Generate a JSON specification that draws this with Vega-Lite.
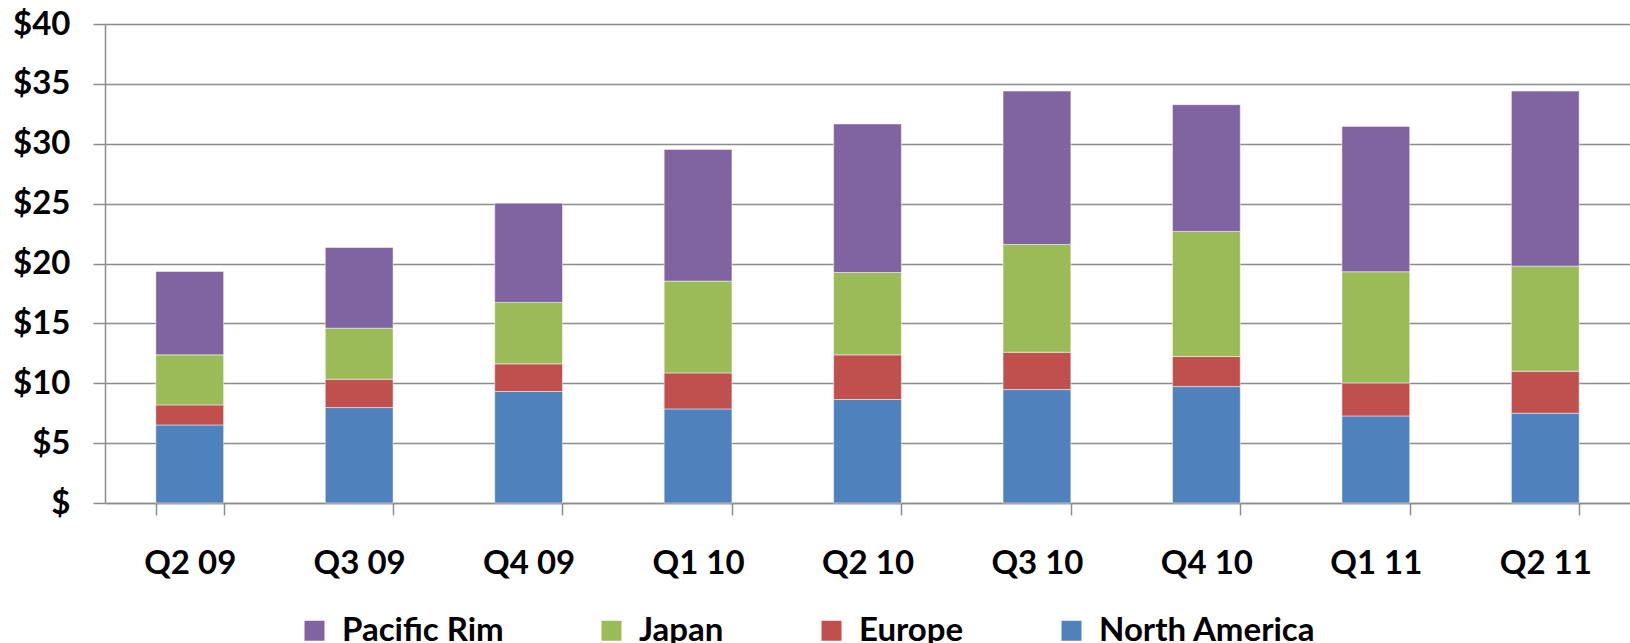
{
  "$schema": "https://vega.github.io/schema/vega-lite/v6.json",
  "width": 1525,
  "height": 479,
  "autosize": {"type": "none"},
  "padding": {"left": 105, "top": 24, "right": 0, "bottom": 140},
  "background": "#ffffff",
  "config": {
    "view": {"stroke": null},
    "font": "Lato",
    "axis": {"labelFont": "Lato", "labelFontWeight": "bold", "labelColor": "#000000"}
  },
  "data": {
    "values": [
      {"quarter": "Q2 09", "region": "North America", "value": 6.52},
      {"quarter": "Q2 09", "region": "Europe", "value": 1.67},
      {"quarter": "Q2 09", "region": "Japan", "value": 4.18},
      {"quarter": "Q2 09", "region": "Pacific Rim", "value": 6.97},
      {"quarter": "Q3 09", "region": "North America", "value": 7.97},
      {"quarter": "Q3 09", "region": "Europe", "value": 2.37},
      {"quarter": "Q3 09", "region": "Japan", "value": 4.26},
      {"quarter": "Q3 09", "region": "Pacific Rim", "value": 6.74},
      {"quarter": "Q4 09", "region": "North America", "value": 9.31},
      {"quarter": "Q4 09", "region": "Europe", "value": 2.31},
      {"quarter": "Q4 09", "region": "Japan", "value": 5.13},
      {"quarter": "Q4 09", "region": "Pacific Rim", "value": 8.29},
      {"quarter": "Q1 10", "region": "North America", "value": 7.86},
      {"quarter": "Q1 10", "region": "Europe", "value": 3.0},
      {"quarter": "Q1 10", "region": "Japan", "value": 7.67},
      {"quarter": "Q1 10", "region": "Pacific Rim", "value": 11.0},
      {"quarter": "Q2 10", "region": "North America", "value": 8.64},
      {"quarter": "Q2 10", "region": "Europe", "value": 3.73},
      {"quarter": "Q2 10", "region": "Japan", "value": 6.88},
      {"quarter": "Q2 10", "region": "Pacific Rim", "value": 12.4},
      {"quarter": "Q3 10", "region": "North America", "value": 9.47},
      {"quarter": "Q3 10", "region": "Europe", "value": 3.12},
      {"quarter": "Q3 10", "region": "Japan", "value": 9.0},
      {"quarter": "Q3 10", "region": "Pacific Rim", "value": 12.81},
      {"quarter": "Q4 10", "region": "North America", "value": 9.72},
      {"quarter": "Q4 10", "region": "Europe", "value": 2.51},
      {"quarter": "Q4 10", "region": "Japan", "value": 10.45},
      {"quarter": "Q4 10", "region": "Pacific Rim", "value": 10.58},
      {"quarter": "Q1 11", "region": "North America", "value": 7.27},
      {"quarter": "Q1 11", "region": "Europe", "value": 2.76},
      {"quarter": "Q1 11", "region": "Japan", "value": 9.28},
      {"quarter": "Q1 11", "region": "Pacific Rim", "value": 12.14},
      {"quarter": "Q2 11", "region": "North America", "value": 7.5},
      {"quarter": "Q2 11", "region": "Europe", "value": 3.5},
      {"quarter": "Q2 11", "region": "Japan", "value": 8.78},
      {"quarter": "Q2 11", "region": "Pacific Rim", "value": 14.62}
    ]
  },
  "transform": [
    {"calculate": "indexof(['North America', 'Europe', 'Japan', 'Pacific Rim'], datum.region)", "as": "stackRank"}
  ],
  "mark": {"type": "bar", "stroke": "#ffffff", "strokeWidth": 0.8, "strokeOpacity": 0.6},
  "encoding": {
    "x": {
      "field": "quarter",
      "type": "nominal",
      "sort": null,
      "scale": {"paddingInner": 0.6, "paddingOuter": 0.3},
      "axis": {
        "title": null,
        "labelAngle": 0,
        "labelFontSize": 33,
        "labelPadding": 32,
        "tickBand": "extent",
        "tickSize": 12,
        "tickColor": "#8c8c8c",
        "tickWidth": 1.5,
        "domainColor": "#8c8c8c",
        "domainWidth": 1.5,
        "grid": false
      }
    },
    "y": {
      "field": "value",
      "type": "quantitative",
      "stack": "zero",
      "scale": {"domain": [0, 40], "nice": false},
      "axis": {
        "title": null,
        "values": [0, 5, 10, 15, 20, 25, 30, 35, 40],
        "labelExpr": "datum.value == 0 ? '$' : '$' + datum.value",
        "labelFontSize": 33,
        "labelPadding": 23,
        "tickSize": 12,
        "tickColor": "#8c8c8c",
        "tickWidth": 1.5,
        "domainColor": "#8c8c8c",
        "domainWidth": 1.5,
        "grid": true,
        "gridColor": "#8c8c8c",
        "gridWidth": 1.5
      }
    },
    "order": {"field": "stackRank", "type": "quantitative", "sort": "ascending"},
    "color": {
      "field": "region",
      "type": "nominal",
      "scale": {
        "domain": ["Pacific Rim", "Japan", "Europe", "North America"],
        "range": ["#8064A2", "#9BBB59", "#C0504D", "#4F81BD"]
      },
      "legend": {
        "title": null,
        "orient": "none",
        "direction": "horizontal",
        "legendX": 193,
        "legendY": 590,
        "symbolType": "square",
        "symbolSize": 400,
        "symbolStrokeWidth": 0,
        "symbolOpacity": 1,
        "labelFont": "Lato",
        "labelFontWeight": "bold",
        "labelFontSize": 33,
        "labelColor": "#000000",
        "labelOffset": 11,
        "columnPadding": 91,
        "labelLimit": 400
      }
    }
  }
}
